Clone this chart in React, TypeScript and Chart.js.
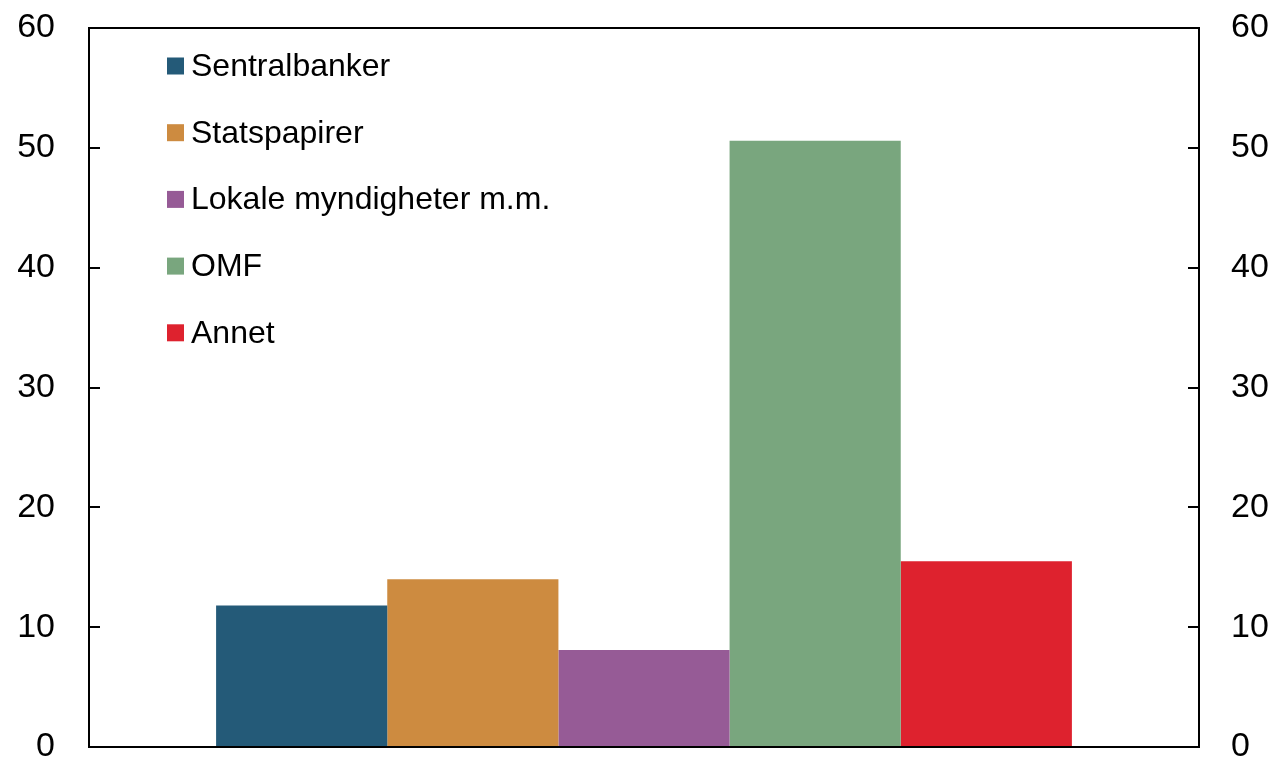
import React, { useEffect, useRef } from "react";
import { Chart, registerables } from "chart.js";

Chart.register(...registerables);

const categories = [""];
const seriesNames = ["Sentralbanker", "Statspapirer", "Lokale myndigheter m.m.", "OMF", "Annet"];
const seriesValues = [11.8, 14.0, 8.1, 50.6, 15.5];
const seriesColors = ["#245a78", "#cd8b40", "#965b96", "#79a67e", "#de222e"];
const yMin = 0;
const yMax = 60;
const yStep = 10;

const FONT = "'Liberation Sans', Arial, sans-serif";

const framePlugin = {
  id: "frameAndLegend",
  afterDraw(chart: any) {
    const { ctx, chartArea: ca } = chart;
    const y = chart.scales.y;
    ctx.save();
    ctx.strokeStyle = "#000";
    ctx.lineWidth = 2;
    ctx.strokeRect(ca.left, ca.top, ca.right - ca.left, ca.bottom - ca.top);
    y.ticks.forEach((t: any) => {
      const py = Math.round(y.getPixelForValue(t.value));
      ctx.beginPath();
      ctx.moveTo(ca.left, py);
      ctx.lineTo(ca.left + 11, py);
      ctx.moveTo(ca.right - 11, py);
      ctx.lineTo(ca.right, py);
      ctx.stroke();
    });
    // legend
    ctx.font = `32px ${FONT}`;
    ctx.textBaseline = "alphabetic";
    ctx.textAlign = "left";
    chart.data.datasets.forEach((ds: any, i: number) => {
      const top = ca.top + 29.5 + i * 66.7;
      ctx.fillStyle = ds.backgroundColor;
      ctx.fillRect(ca.left + 78, top, 17, 17);
      ctx.fillStyle = "#000";
      ctx.fillText(ds.label, ca.left + 102, ca.top + 48 + i * 66.7);
    });
    ctx.restore();
  },
};

export default function App() {
  const ref = useRef<HTMLCanvasElement>(null);
  useEffect(() => {
    if (!ref.current) return;
    const tickOpts = {
      stepSize: yStep,
      color: "#000",
      font: { family: FONT, size: 34 },
    };
    const chart = new Chart(ref.current, {
      type: "bar",
      data: {
        labels: categories,
        datasets: seriesNames.map((name, i) => ({
          label: name,
          data: [seriesValues[i]],
          backgroundColor: seriesColors[i],
          borderWidth: 0,
          barPercentage: 1,
          categoryPercentage: 0.771,
          yAxisID: "y",
        })),
      },
      options: {
        responsive: false,
        animation: false,
        layout: { padding: { top: 28, bottom: 15, left: 0, right: 0 } },
        plugins: { legend: { display: false }, tooltip: { enabled: false } },
        scales: {
          x: { display: false },
          y: {
            position: "left",
            min: yMin,
            max: yMax,
            ticks: { ...tickOpts, padding: 34 },
            grid: { display: false, drawTicks: false },
            border: { display: false },
            afterFit(s: any) {
              s.width = 89;
              s.paddingTop = 0;
              s.paddingBottom = 0;
            },
          },
          y2: {
            position: "right",
            min: yMin,
            max: yMax,
            ticks: { ...tickOpts, padding: 32 },
            grid: { display: false, drawTicks: false },
            border: { display: false },
            afterFit(s: any) {
              s.width = 82;
              s.paddingTop = 0;
              s.paddingBottom = 0;
            },
          },
        },
      } as any,
      plugins: [framePlugin],
    });
    return () => chart.destroy();
  }, []);
  return (
    <div style={{ position: "absolute", left: 0, top: 0, width: 1281, height: 762, background: "#fff" }}>
      <canvas ref={ref} width={1281} height={762} />
    </div>
  );
}
